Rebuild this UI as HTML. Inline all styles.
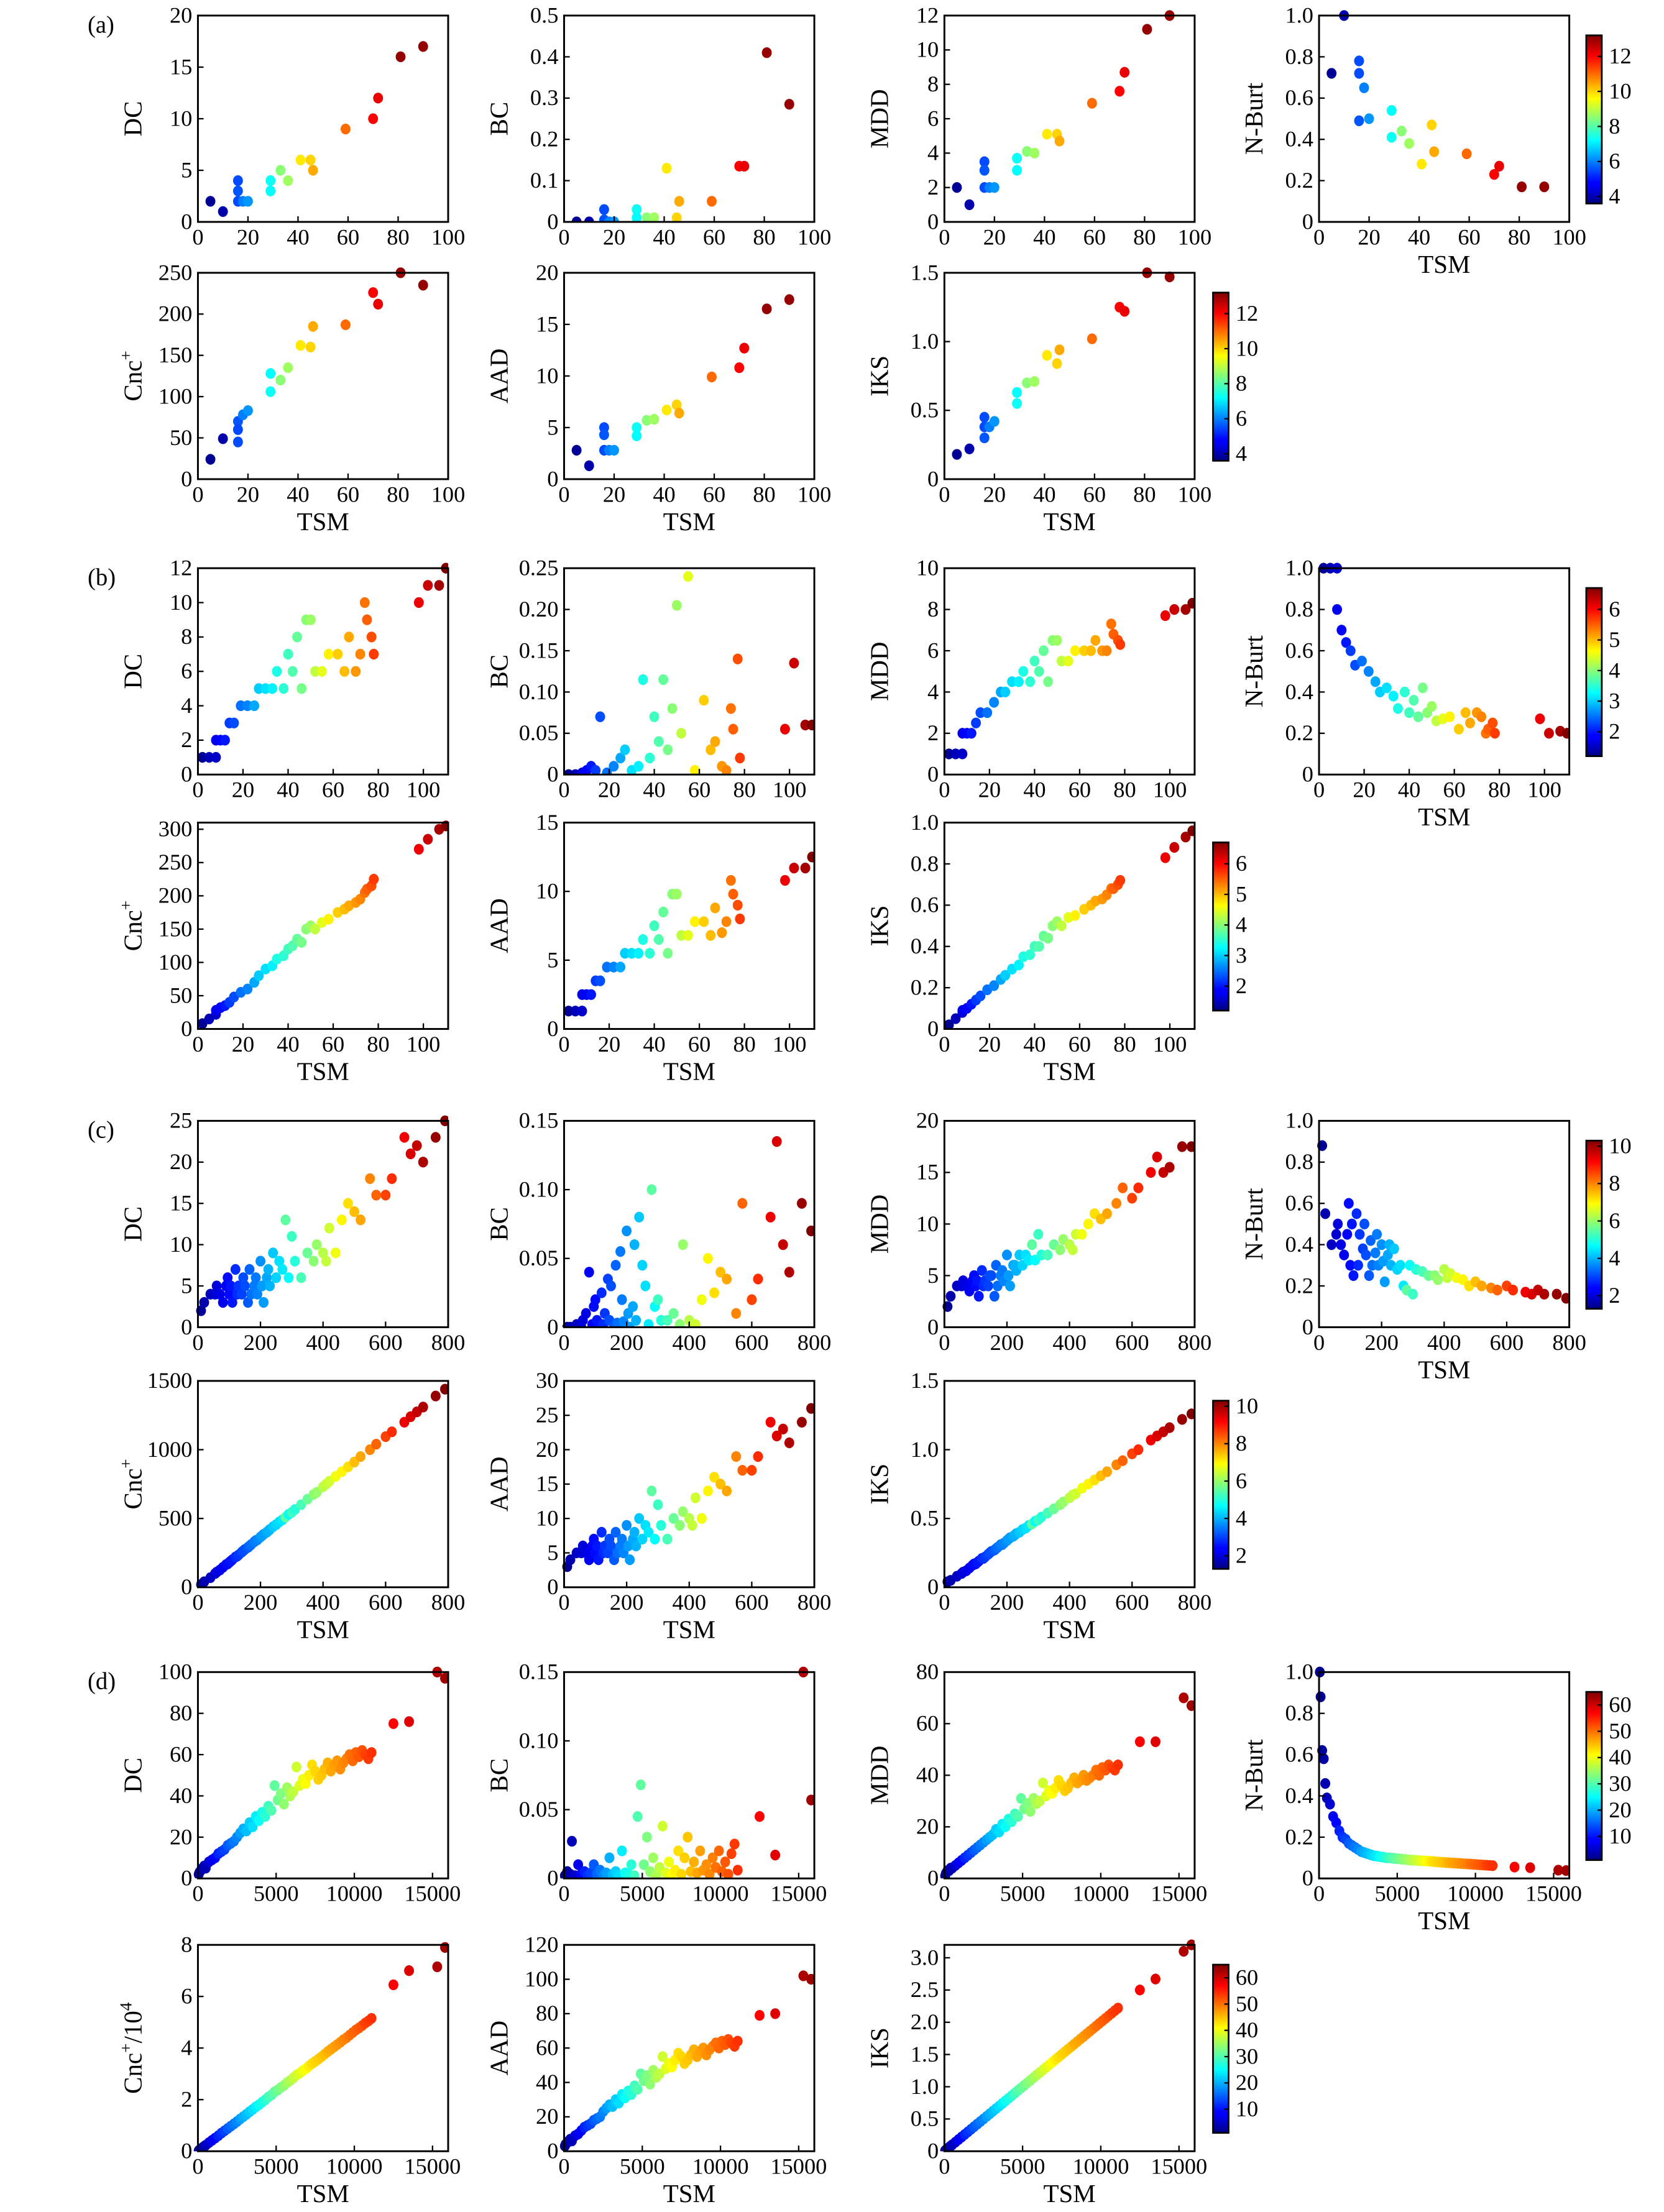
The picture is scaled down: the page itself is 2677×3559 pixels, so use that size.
<!DOCTYPE html>
<html><head><meta charset="utf-8">
<style>
html,body{margin:0;padding:0;background:#fff;}
svg{display:block;}
text{font-family:"Liberation Serif","DejaVu Serif",serif;fill:#000;}
</style></head>
<body>
<svg id="fig" xmlns="http://www.w3.org/2000/svg" width="2677" height="3559" viewBox="0 0 1177 1565" preserveAspectRatio="none">
<defs>
<linearGradient id="jet" x1="0" y1="1" x2="0" y2="0">
<stop offset="0" stop-color="#00007f"/><stop offset="0.11" stop-color="#0000ff"/>
<stop offset="0.125" stop-color="#0000ff"/><stop offset="0.375" stop-color="#00ffff"/>
<stop offset="0.5" stop-color="#7fff7f"/><stop offset="0.625" stop-color="#ffff00"/>
<stop offset="0.875" stop-color="#ff0000"/><stop offset="1" stop-color="#7f0000"/>
</linearGradient>
</defs>
</svg>
<script>
// ---------- Panel (a) data ----------
const aT=[5,10,16,16,16,18,20,29,29,33,36,41,45,46,59,70,72,81,90];
const aCol=[3.8,4,5.5,5.6,5.5,6,6.2,7.3,7.2,8.5,8.7,9.8,10,10.4,11,12,12.2,13,13];
const aDC=[2,1,4,3,2,2,2,4,3,5,4,6,6,5,9,10,12,16,17];
const aBC=[0,0,0.03,0.005,0,0,0,0.03,0.01,0.01,0.01,0.13,0.01,0.05,0.05,0.135,0.135,0.41,0.285];
const aMDD=[2,1,3.5,3,2,2,2,3.7,3,4.1,4,5.1,5.1,4.7,6.9,7.6,8.7,11.2,12];
const aNB=[0.72,1.0,0.78,0.49,0.72,0.65,0.5,0.41,0.54,0.44,0.38,0.28,0.47,0.34,0.33,0.23,0.27,0.17,0.17];
const aCnc=[24,49,45,70,60,78,83,106,128,120,135,162,160,185,187,226,212,250,235];
const aAAD=[2.8,1.3,5,4.3,2.8,2.8,2.8,5,4.2,5.7,5.8,6.7,7.2,6.4,9.9,10.8,12.7,16.5,17.4];
const aIKS=[0.18,0.22,0.45,0.3,0.38,0.38,0.42,0.55,0.63,0.7,0.71,0.9,0.84,0.94,1.02,1.25,1.22,1.5,1.47];
// ---------- Panel (b) data ----------
const bT=[2,5,8,8,10,12,14,16,19,22,25,27,30,33,35,38,40,42,44,46,48,50,52,55,58,62,65,67,70,72,74,75,77,78,98,102,107,110];
const bCol=[1.3,1.5,1.6,1.8,1.9,2.0,2.2,2.3,2.5,2.6,2.8,3.0,3.1,3.2,3.4,3.5,3.6,3.7,3.8,3.9,4.0,4.1,4.3,4.5,4.7,4.9,5.0,5.1,5.2,5.3,5.4,5.5,5.6,5.7,6.1,6.3,6.5,6.7];
const bDC=[1,1,1,2,2,2,3,3,4,4,4,5,5,5,6,5,7,6,8,5,9,9,6,6,7,7,6,8,6,7,10,9,8,7,10,11,11,12];
const bBC=[0,0,0.002,0,0.005,0.01,0.005,0.07,0.002,0.01,0.02,0.03,0.005,0.01,0.115,0.02,0.07,0.04,0.115,0.03,0.08,0.205,0.05,0.24,0.005,0.09,0.03,0.04,0.01,0.005,0.08,0.055,0.14,0.02,0.055,0.135,0.06,0.06];
const bMDD=[1,1,1,2,2,2,2.5,3,3,3.5,4,4,4.5,4.5,5,4.5,5.5,5,6,4.5,6.5,6.5,5.5,5.5,6,6,6,6.5,6,6,7.3,6.8,6.5,6.3,7.7,8,8,8.3];
const bNB=[1,1,1,0.8,0.7,0.64,0.6,0.53,0.55,0.5,0.45,0.4,0.42,0.38,0.32,0.4,0.3,0.36,0.28,0.42,0.3,0.33,0.26,0.27,0.28,0.22,0.3,0.25,0.3,0.28,0.2,0.22,0.25,0.2,0.27,0.2,0.21,0.2];
const bCnc=[8,15,22,28,32,35,40,48,55,60,70,80,90,95,105,110,120,125,135,130,150,155,150,160,165,175,180,185,190,195,205,210,215,225,270,285,300,305];
const bAAD=[1.3,1.3,1.3,2.5,2.5,2.5,3.5,3.5,4.5,4.5,4.5,5.5,5.5,5.5,6.5,5.5,7.5,6.5,8.5,5.5,9.8,9.8,6.8,6.8,7.8,7.8,6.8,8.8,7,7.8,10.8,9.8,9,8,10.8,11.7,11.7,12.5];
const bIKS=[0.02,0.05,0.08,0.09,0.1,0.12,0.14,0.16,0.19,0.21,0.24,0.26,0.29,0.31,0.35,0.36,0.4,0.4,0.45,0.44,0.5,0.52,0.5,0.54,0.55,0.58,0.6,0.62,0.63,0.65,0.68,0.68,0.7,0.72,0.83,0.88,0.93,0.96];
// ---------- Panel (c) data ----------
const cT=[10,20,40,55,60,70,80,90,95,100,105,110,120,125,130,140,145,150,160,165,170,180,185,190,200,205,210,220,225,230,240,250,260,270,280,290,300,310,330,350,370,380,400,410,420,440,460,480,500,520,550,570,600,620,660,680,700,720,760,790];
const cCol=[1.5,1.7,1.9,2.0,2.1,2.2,2.3,2.4,2.5,2.5,2.6,2.6,2.8,2.8,2.9,3.0,3.1,3.1,3.2,3.3,3.4,3.5,3.5,3.6,3.7,3.8,3.8,3.9,4.0,4.0,4.2,4.3,4.4,4.5,5.5,4.7,5.2,5.0,5.3,5.6,5.9,6.0,6.3,6.4,6.5,6.8,7.0,7.2,7.5,7.7,8.0,8.3,8.6,8.8,9.3,9.5,9.7,9.9,10.1,10.3];
const cDC=[2,3,4,4,5,4,3,5,6,4,5,3,7,4,5,4,6,5,3,7,4,5,6,4,8,5,3,6,7,5,9,6,8,7,13,6,11,8,6,9,8,10,9,8,12,9,13,15,14,13,18,16,16,18,23,21,22,20,23,25];
const cBC=[0,0,0.002,0,0.005,0.01,0.04,0.002,0.015,0.02,0.005,0,0.025,0.002,0.01,0.035,0.005,0.03,0,0.045,0.003,0.055,0.02,0.004,0.07,0.01,0,0.015,0.06,0.005,0.08,0.045,0.03,0.002,0.1,0.015,0.02,0.005,0.005,0.01,0.002,0.06,0.005,0,0.002,0.02,0.05,0.025,0.04,0.035,0.01,0.09,0.02,0.035,0.08,0.135,0.06,0.04,0.09,0.07];
const cMDD=[2,3,4,4,4.5,4,3.5,4.5,5,4,4.5,3,5.5,4,4.5,4,5,5,3,6,4,5,5.5,4.5,7,5,4,6,6,5.5,7,6,7,6.5,8,6.5,9,7,7,8,7.5,8.5,8,7.5,9,9,10,11,10.5,11,12,13.5,12.5,13.5,15,16.5,15,15.5,17.5,17.5];
const cNB=[0.88,0.55,0.4,0.45,0.5,0.4,0.35,0.45,0.6,0.3,0.5,0.25,0.55,0.3,0.45,0.38,0.5,0.35,0.25,0.42,0.3,0.36,0.45,0.3,0.4,0.32,0.22,0.35,0.4,0.3,0.38,0.28,0.3,0.2,0.18,0.3,0.16,0.28,0.27,0.25,0.25,0.23,0.28,0.24,0.26,0.24,0.23,0.2,0.22,0.2,0.19,0.18,0.2,0.18,0.17,0.16,0.18,0.16,0.16,0.14];
const cCnc=[20,40,70,100,110,125,145,165,170,180,190,200,220,225,235,255,265,275,290,300,310,330,340,345,365,375,385,400,410,420,440,455,475,490,510,530,545,565,600,640,675,690,730,750,770,805,840,875,910,950,1000,1040,1095,1130,1200,1240,1275,1310,1390,1440];
const cAAD=[3,4,5,5,6,5,4,6,7,5,6,4,8,5,6,5,7,6,4,8,5,6,7,5,9,6,4,7,8,6,10,7,9,8,14,7,12,9,7,10,9,11,10,9,13,10,14,16,15,14,19,17,17,19,24,22,23,21,24,26];
const cIKS=[0.04,0.05,0.08,0.1,0.11,0.12,0.14,0.16,0.17,0.17,0.18,0.19,0.21,0.21,0.22,0.24,0.25,0.26,0.27,0.28,0.29,0.31,0.31,0.32,0.34,0.35,0.36,0.37,0.38,0.39,0.4,0.42,0.43,0.45,0.46,0.48,0.49,0.51,0.54,0.57,0.6,0.62,0.65,0.67,0.68,0.72,0.75,0.78,0.81,0.84,0.89,0.92,0.97,1.0,1.07,1.1,1.13,1.16,1.22,1.26];
// ---------- Panel (d) data ----------
const dT=[50,100,200,300,400,500,700,900,1100,1300,1500,1700,1900,2100,2300,2500,2700,2900,3100,3300,3500,3700,3900,4100,4300,4500,4700,4900,5100,5300,5500,5700,5900,6100,6300,6500,6700,6900,7100,7300,7500,7700,7900,8100,8300,8500,8700,8900,9100,9300,9500,9700,9900,10100,10300,10500,10700,10900,11100,12500,13500,15300,15800];
const dCol=[2,2.5,3,3.5,4,4.5,6,8,9,11,12,13,14.5,15.5,16.5,17.5,19,20,21,22,23,24,25.5,26.5,27.5,29,30,31,32,33,34,35,36,37,38,39,40,41,42,43,43.5,44,44.5,45,46,46.5,47,47.5,48,48.5,49,50,50.5,51,51.5,52,53,53.5,54,57,59,62,63];
const dDC=[2,3,4,5,6,5,8,9,10,12,13,14,16,17,18,20,22,24,23,27,25,30,28,32,30,35,33,45,38,41,36,44,40,42,54,45,48,46,50,55,52,48,50,53,56,52,55,57,53,56,58,60,57,61,59,62,60,58,61,75,76,100,97];
const dBC=[0.002,0,0.005,0,0.003,0.027,0.002,0.01,0.003,0.005,0.002,0.004,0.01,0.003,0.006,0.002,0.004,0.015,0.003,0.005,0.002,0.02,0.004,0.003,0.01,0.002,0.045,0.068,0.01,0.03,0.005,0.015,0.002,0.008,0.038,0.004,0.012,0.003,0.006,0.02,0.003,0.015,0.03,0.005,0.012,0.004,0.02,0.006,0.01,0.003,0.015,0.008,0.02,0.005,0.012,0.003,0.018,0.025,0.006,0.045,0.017,0.15,0.057];
const dMDD=[1,2,3,3,4,4,5,6,7,8,9,10,11,12,13,14,15,16,17,19,18,21,20,23,22,25,24,31,27,29,26,31,29,30,37,32,34,33,35,38,36,34,35,37,39,37,38,40,38,39,40,42,40,43,42,44,43,42,44,53,53,70,67];
const dNB=[1.0,0.88,0.62,0.58,0.46,0.39,0.36,0.3,0.27,0.23,0.2,0.19,0.17,0.16,0.15,0.14,0.13,0.125,0.12,0.115,0.11,0.108,0.105,0.103,0.1,0.1,0.098,0.096,0.095,0.093,0.092,0.09,0.089,0.088,0.087,0.086,0.085,0.084,0.083,0.082,0.08,0.079,0.078,0.077,0.076,0.075,0.074,0.073,0.072,0.071,0.07,0.069,0.068,0.067,0.066,0.065,0.064,0.063,0.062,0.055,0.052,0.04,0.038];
const dCnc=[0.02,0.05,0.1,0.14,0.19,0.23,0.33,0.42,0.51,0.6,0.7,0.79,0.88,0.97,1.06,1.15,1.25,1.34,1.43,1.53,1.62,1.72,1.8,1.9,1.99,2.1,2.18,2.3,2.37,2.47,2.55,2.66,2.74,2.84,2.95,3.02,3.12,3.2,3.3,3.4,3.48,3.57,3.66,3.76,3.86,3.95,4.04,4.13,4.22,4.32,4.4,4.5,4.6,4.7,4.78,4.87,4.97,5.05,5.15,6.45,7.0,7.15,7.9];
const dAAD=[3,4,5,6,7,6,9,10,12,14,15,16,18,19,20,23,25,27,26,30,28,33,31,35,33,38,36,45,41,44,39,47,43,45,55,48,51,49,53,57,55,51,53,56,59,55,58,60,56,59,61,63,60,64,62,65,63,61,64,79,80,102,100];
const dIKS=[0.01,0.02,0.04,0.06,0.08,0.1,0.14,0.18,0.22,0.26,0.3,0.34,0.38,0.42,0.46,0.5,0.54,0.58,0.62,0.66,0.7,0.74,0.78,0.82,0.86,0.9,0.94,0.98,1.02,1.06,1.1,1.14,1.18,1.22,1.26,1.3,1.34,1.38,1.42,1.46,1.5,1.54,1.58,1.62,1.66,1.7,1.74,1.78,1.82,1.86,1.9,1.94,1.98,2.02,2.06,2.1,2.14,2.18,2.22,2.5,2.67,3.1,3.2];

// ---------- Axis tick labels ----------
const xTicksA=[0,20,40,60,80,100], xLabA=["0","20","40","60","80","100"];
const xTicksC=[0,200,400,600,800], xLabC=["0","200","400","600","800"];
const xTicksD=[0,5000,10000,15000], xLabD=["0","5000","10000","15000"];
const cbTicksA=[4,6,8,10,12], cbTicksB=[2,3,4,5,6], cbTicksC=[2,4,6,8,10], cbTicksD=[10,20,30,40,50,60];

const NS="http://www.w3.org/2000/svg";
const svg=document.getElementById('fig');
function el(tag,attrs,parent){const e=document.createElementNS(NS,tag);for(const k in attrs)e.setAttribute(k,attrs[k]);(parent||svg).appendChild(e);return e;}
function jet(t){t=Math.max(0,Math.min(1,t));const c=v=>Math.round(255*Math.max(0,Math.min(1,v)));
 return `rgb(${c(1.5-Math.abs(4*t-3))},${c(1.5-Math.abs(4*t-2))},${c(1.5-Math.abs(4*t-1))})`;}
function fmt(v,d){return v===0?"0":v.toFixed(d);}
function ticks(max,step,d){const t=[],l=[];for(let v=0;v<=max+1e-9;v+=step){t.push(+v.toFixed(6));l.push(fmt(v,d));}return {t,l};}

const colX=[140,399,668,933], W=177, H=146;
const panels=[
 {id:'a',top:[11,193],T:aT,C:aCol,cr:[3.6,13.2],xmax:100,xt:xTicksA,xl:xLabA,cb:cbTicksA,
  m:[aDC,aBC,aMDD,aNB,aCnc,aAAD,aIKS],
  y:[[20,5,0],[0.5,0.1,1],[12,2,0],[1,0.2,1],[250,50,0],[20,5,0],[1.5,0.5,1]],ymaxOver:[null,null,null,null,null,null,null]},
 {id:'b',top:[402,582],T:bT,C:bCol,cr:[1.2,6.7],xmax:111,xt:xTicksA,xl:xLabA,cb:cbTicksB,
  m:[bDC,bBC,bMDD,bNB,bCnc,bAAD,bIKS],
  y:[[12,2,0],[0.25,0.05,2],[10,2,0],[1,0.2,1],[300,50,0],[15,5,0],[1,0.2,1]],ymaxOver:[null,null,null,null,310,null,null]},
 {id:'c',top:[793,977],T:cT,C:cCol,cr:[1.3,10.3],xmax:800,xt:xTicksC,xl:xLabC,cb:cbTicksC,
  m:[cDC,cBC,cMDD,cNB,cCnc,cAAD,cIKS],
  y:[[25,5,0],[0.15,0.05,2],[20,5,0],[1,0.2,1],[1500,500,0],[30,5,0],[1.5,0.5,1]],ymaxOver:[null,null,null,null,null,null,null]},
 {id:'d',top:[1183,1376],T:dT,C:dCol,cr:[1,65],xmax:16000,xt:xTicksD,xl:xLabD,cb:cbTicksD,
  m:[dDC,dBC,dMDD,dNB,dCnc,dAAD,dIKS],
  y:[[100,20,0],[0.15,0.05,2],[80,20,0],[1,0.2,1],[8,2,0],[120,20,0],[3.0,0.5,1]],ymaxOver:[null,null,null,null,null,null,3.2]}
];
const names=['DC','BC','MDD','N-Burt','Cnc','AAD','IKS'];
const slots=[[0,0],[1,0],[2,0],[3,0],[0,1],[1,1],[2,1]];

panels.forEach(p=>{
 const pl=el('text',{x:62,y:p.top[0]+12,'font-size':17});pl.textContent='('+p.id+')';
 
 
 names.forEach((nm,k)=>{
  const [ci,ri]=slots[k];const L=colX[ci],Tp=p.top[ri],B=Tp+H;
  const yd=p.y[k];const yt=ticks(yd[0],yd[1],yd[2]);const ymax=p.ymaxOver[k]||yd[0];
  const sx=v=>L+v/p.xmax*W, sy=v=>B-v/ymax*H;
  const g=el('g',{});
  
  
  const clip=el('clipPath',{id:'cl'+p.id+k},g);el('rect',{x:L-4,y:Tp-4,width:W+4,height:H+4},clip);
  const pts=el('g',{'clip-path':`url(#cl${p.id}${k})`},g);
  
  
  const vals=p.m[k];
  for(let i=0;i<p.T.length;i++){ if(vals[i]===undefined)continue;
   const c=el('ellipse',{cx:sx(p.T[i]),cy:sy(vals[i]),rx:3.5,ry:3.8,fill:jet((p.C[i]-p.cr[0])/(p.cr[1]-p.cr[0]))},pts);
   
   
  }
  el('rect',{x:L,y:Tp,width:W,height:H,fill:'none',stroke:'#000','stroke-width':1.3},g);
  yt.t.forEach((v,j)=>{const y=sy(v);
   el('line',{x1:L,x2:L+4,y1:y,y2:y,stroke:'#000','stroke-width':1},g);
   const t=el('text',{x:L-4,y:y+5,'font-size':16,'text-anchor':'end'},g);t.textContent=yt.l[j];
   
   });
  p.xt.forEach((v,j)=>{const x=sx(v);
   el('line',{x1:x,x2:x,y1:B,y2:B-4,stroke:'#000','stroke-width':1},g);
   const t=el('text',{x:x,y:B+16,'font-size':16,'text-anchor':'middle'},g);t.textContent=p.xl[j];
   
   });
  const yl=el('text',{x:0,y:0,'font-size':18,'text-anchor':'middle',transform:`translate(${L-40},${Tp+H/2}) rotate(-90)`},g);
  if(nm==='Cnc'){yl.innerHTML = p.id==='d' ? 'Cnc<tspan dy="-7" font-size="12">+</tspan><tspan dy="7">/10</tspan><tspan dy="-7" font-size="12">4</tspan>' : 'Cnc<tspan dy="-7" font-size="12">+</tspan>';}
  else yl.textContent=nm;
  
  
  if(ri===1||k===3){const xl=el('text',{x:L+W/2,y:B+36,'font-size':18,'text-anchor':'middle'},g);xl.textContent='TSM';
   
   }
 });
 // colorbars
 [[1122,p.top[0]],[858,p.top[1]]].forEach(([cx,ty],r)=>{
  const y0=ty+14,y1=ty+H-13;const g=el('g',{});
  
  
  el('rect',{x:cx,y:y0,width:11,height:y1-y0,fill:'url(#jet)',stroke:'#000','stroke-width':1.2},g);
  p.cb.forEach(v=>{const y=y1-(v-p.cr[0])/(p.cr[1]-p.cr[0])*(y1-y0);
   el('line',{x1:cx+8,x2:cx+11,y1:y,y2:y,stroke:'#000','stroke-width':1},g);
   const t=el('text',{x:cx+16,y:y+5,'font-size':16},g);t.textContent=String(v);
   
   });
 });
});
</script>
</body></html>
